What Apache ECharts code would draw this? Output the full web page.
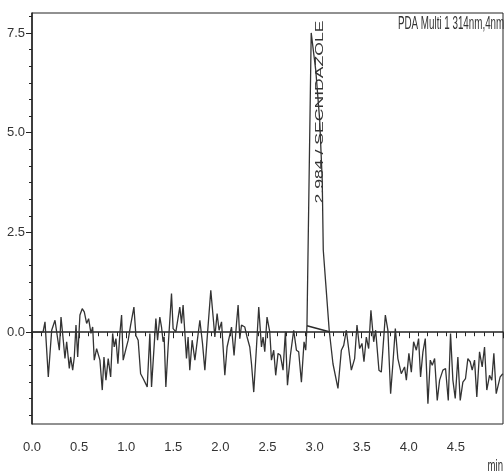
<!DOCTYPE html>
<html>
<head>
<meta charset="utf-8">
<script src="https://cdn.jsdelivr.net/npm/echarts@6/dist/echarts.min.js"></script>
<style>
html,body{margin:0;padding:0;background:#fff;}
#c{width:504px;height:474px;}
</style>
</head>
<body>
<div id="c"></div>
<script>
// retention time (min)
const timeMin = [
0,0.117,0.138,0.173,0.209,0.226,0.244,0.262,0.290,0.308,0.332,0.350,0.368,0.396,0.410,0.432,0.449,0.467,0.485,0.509,
0.533,0.555,0.580,0.601,0.626,0.644,0.661,0.686,0.703,0.721,0.746,0.764,0.785,0.809,0.835,0.856,0.873,0.891,0.912,0.933,
0.951,0.968,0.994,1.021,1.047,1.082,1.103,1.127,1.153,1.180,1.198,1.223,1.251,1.269,1.315,1.333,1.357,1.375,1.392,1.403,
1.421,1.445,1.481,1.498,1.527,1.548,1.569,1.587,1.604,1.640,1.657,1.675,1.700,1.729,1.753,1.782,1.810,1.835,1.859,1.880,
1.898,1.923,1.941,1.965,1.986,2.012,2.047,2.071,2.092,2.118,2.145,2.171,2.188,2.206,2.224,2.259,2.283,2.312,2.330,2.354,
2.383,2.407,2.436,2.453,2.471,2.495,2.524,2.542,2.566,2.587,2.612,2.637,2.665,2.690,2.712,2.743,2.778,2.807,2.831,2.860,
2.888,2.906,2.919,2.964,3.012,3.054,3.081,3.092,3.118,3.155,3.195,3.248,3.284,3.309,3.337,3.354,3.390,3.425,3.450,
3.478,3.503,3.524,3.549,3.574,3.598,3.627,3.648,3.683,3.708,3.751,3.778,3.807,3.831,3.857,3.884,3.920,3.955,3.974,4.001,
4.027,4.051,4.080,4.104,4.125,4.150,4.175,4.203,4.228,4.249,4.274,4.302,4.327,4.362,4.390,4.419,4.443,4.468,4.493,4.521,
4.546,4.574,4.602,4.627,4.652,4.673,4.698,4.722,4.751,4.779,4.804,4.828,4.857,4.881,4.903,4.928,4.945,4.970,4.998
];
// detector signal (mAU)
const signal = [
0,0,0.26,-1.12,0.05,0.01,0.30,0.26,-0.45,0.38,-0.20,-0.66,-0.24,-0.91,-0.62,-0.95,-0.62,0.18,-0.62,0.43,
0.59,0.51,0.22,0.34,-0.03,0.13,-0.70,-0.41,-0.45,-0.70,-1.45,-0.62,-1.20,-0.66,-1.12,-0.03,-0.37,-0.16,-0.79,-0.03,
0.43,-0.70,-0.45,-0.20,0.18,0.63,-0.08,-0.20,-1.04,-1.16,-1.12,-1.37,-0.03,-1.37,0.34,-0.20,0.38,0.13,-0.24,-0.12,
-1.37,-0.37,0.97,0.09,0.01,0.05,0.63,0.22,0.68,-0.66,-0.12,-0.95,-0.20,-0.70,-0.24,0.30,-0.28,-0.95,-0.16,-0.20,
1.05,0.38,-0.12,0.47,0.05,0.26,-1.08,-0.37,-0.41,0.13,-0.58,0.22,0.68,-0.16,0.18,0.13,-0.12,-0.37,-0.79,-1.50,
-0.37,0.63,-0.37,-0.12,-0.49,0.38,0.01,-0.70,-0.45,-1.08,-0.53,-0.58,-0.95,0.01,-1.33,-0.58,0.05,-0.45,-0.49,-1.25,
-0.24,-0.45,0.16,7.50,6.57,5.32,3.81,2.06,1.23,0.05,-0.79,-1.41,-0.45,-0.33,0.05,0.01,-0.95,-0.66,0.18,
-0.41,-0.28,-0.74,-0.12,-0.41,0.55,-0.24,0.05,-0.95,-1.00,0.43,0.05,-1.54,-0.79,0.09,-0.66,-1.04,-0.87,-1.20,-0.53,
-1.00,-0.24,-0.45,-0.16,-1.12,-0.49,-0.16,-1.79,-0.70,-0.83,-0.66,-1.71,-1.20,-0.95,-0.91,-1.71,-0.03,-1.20,-1.66,-0.62,
-1.71,-1.25,-1.16,-0.66,-0.74,-0.95,-0.70,-1.62,-0.49,-0.87,-0.37,-1.45,-1.08,-1.20,-0.53,-1.54,-1.58,-1.12,-1.04
];
// integration baseline under the peak
const baseTime = [2.919, 3.155];
const baseSignal = [0.16, 0.01];
// axis ticks
const xTicks = [0,0.5,1.0,1.5,2.0,2.5,3.0,3.5,4.0,4.5,5.0];
const yMajor = [0,2.5,5.0,7.5];
const yMinor = [-2.083,-1.667,-1.25,-0.833,-0.417,0.417,0.833,1.25,1.667,2.083,2.917,3.333,3.75,4.167,4.583,5.417,5.833,6.25,6.667,7.083,7.917];
const peakText = '2.984 / SECNIDAZOLE';
const peakTextAt = [3.054, 5.52];
const channelText = 'PDA Multi 1 314nm,4nm';
const unitText = 'min';

const trace = timeMin.map((t, i) => [t, signal[i]]);
const baseline = baseTime.map((t, i) => [t, baseSignal[i]]);

const chart = echarts.init(document.getElementById('c'), null, {renderer: 'canvas'});
const FONT = '"Liberation Sans Narrow", "Liberation Sans", Arial, sans-serif';
chart.setOption({
  animation: false,
  backgroundColor: '#fff',
  grid: {left: 32, right: 1, top: 13, bottom: 50, show: true, borderColor: '#222', borderWidth: 1},
  xAxis: {
    type: 'value', min: 0, max: 5.0, interval: 0.5,
    axisLine: {show: true, lineStyle: {color: '#222', width: 1.5}},
    axisTick: {show: true, length: 6, lineStyle: {color: '#222'}},
    minorTick: {show: true, splitNumber: 5, length: 4, lineStyle: {color: '#222'}},
    splitLine: {show: false},
    axisLabel: {color: '#333', fontSize: 13, fontFamily: FONT, margin: 17, showMaxLabel: false,
      formatter: v => v.toFixed(1)}
  },
  yAxis: [{
    type: 'value', min: -2.3, max: 8.0,
    axisLine: {show: true, lineStyle: {color: '#222', width: 1.5}},
    axisTick: {show: true, length: 6, customValues: yMajor, lineStyle: {color: '#222'}},
    splitLine: {show: false},
    axisLabel: {color: '#333', fontSize: 13, fontFamily: FONT, margin: 7, customValues: yMajor,
      formatter: v => v.toFixed(1)}
  }, {
    type: 'value', min: -2.3, max: 8.0, position: 'left',
    axisLine: {show: false},
    axisTick: {show: true, length: 3, customValues: yMinor, lineStyle: {color: '#222'}},
    splitLine: {show: false},
    axisLabel: {show: false}
  }],
  series: [{
    type: 'line', data: trace, yAxisIndex: 0, symbol: 'none', smooth: false,
    lineStyle: {color: '#333', width: 1.3}, z: 3
  }, {
    type: 'line', data: baseline, yAxisIndex: 0, symbol: 'none',
    lineStyle: {color: '#2a2a2a', width: 1.5}, z: 4
  }]
});

const p = chart.convertToPixel({gridIndex: 0}, peakTextAt);
chart.setOption({
  graphic: [{
    type: 'text', x: p[0], y: p[1], rotation: Math.PI / 2, scaleX: 1.6, scaleY: 1,
    style: {text: peakText, fontSize: 11, fontFamily: FONT, fill: '#333', textAlign: 'center', textVerticalAlign: 'middle'}
  }, {
    type: 'text', left: 398, top: 14, scaleX: 0.7, scaleY: 1.35,
    style: {text: channelText, fontSize: 14, fontFamily: FONT, fill: '#333'}
  }, {
    type: 'text', right: 1, bottom: 0, scaleX: 0.8, scaleY: 1.3,
    style: {text: unitText, fontSize: 12, fontFamily: FONT, fill: '#333'}
  }]
});
</script>
</body>
</html>
